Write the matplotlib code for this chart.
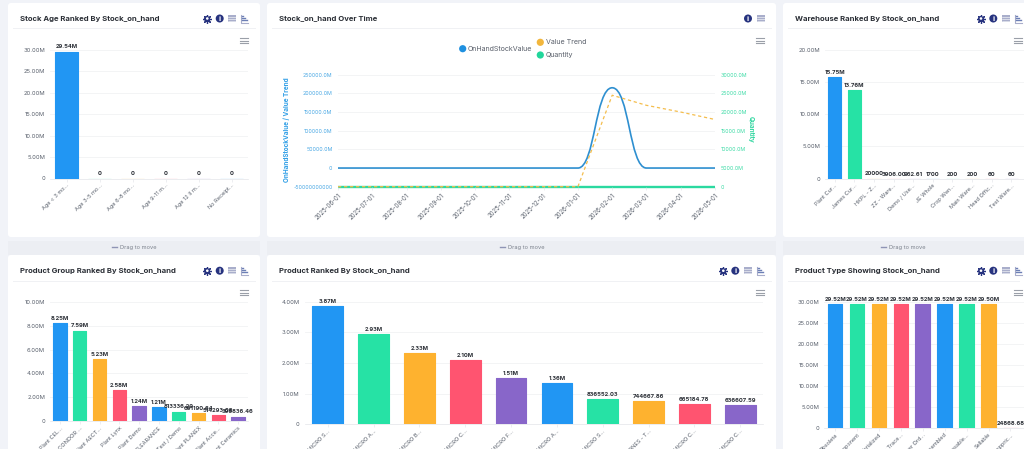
import matplotlib
matplotlib.use('Agg')
import matplotlib.pyplot as plt
from matplotlib.patches import FancyBboxPatch, Rectangle, Circle, PathPatch
from matplotlib.path import Path

plt.rcParams['font.family'] = ['Inter', 'DejaVu Sans']

# Stock age panel
age_names = ['Age < 3 mo...', 'Age 3-5 mo...', 'Age 6-8 mo...', 'Age 9-11 m...', 'Age 12 II m...', 'No Receipt...']
age_values = [29.54e6, 0, 0, 0, 0, 0]
age_labels = ['29.54M', '0', '0', '0', '0', '0']
age_ticks = ['0', '5.00M', '10.00M', '15.00M', '20.00M', '25.00M', '30.00M']

# Stock over time panel
months = ['2025-06-01', '2025-07-01', '2025-08-01', '2025-09-01', '2025-10-01', '2025-11-01',
          '2025-12-01', '2026-01-01', '2026-02-01', '2026-03-01', '2026-04-01', '2026-05-01']
stock_value = [0, 0, 0, 0, 0, 0, 0, 0, 215000, 0, 0, 0]
value_trend = [-50000, -50000, -50000, -50000, -50000, -50000, -50000, -50000, 195000, 168000, 150000, 130000]
quantity = [0, 0, 0, 0, 0, 0, 0, 0, 0, 0, 0, 0]
left_ticks = ['-50000000000', '0', '50000.0M', '100000.0M', '150000.0M', '200000.0M', '250000.0M']
right_ticks = ['0', '5000.0M', '10000.0M', '15000.0M', '20000.0M', '25000.0M', '30000.0M']

# Warehouse panel
warehouse_names = ['Plant Cur...', 'James Cur...', 'HKPL - Z...', 'ZZ - Ware...', 'Demo / Use...',
                   'JE Whole', 'Crop Wen...', 'Main Ware...', 'Head Offic...', 'Test Ware...']
warehouse_values = [15.75e6, 13.76e6, 20000, 3906.00, 962.61, 1700, 200, 200, 60, 60]
warehouse_labels = ['15.75M', '13.76M', '20000', '3906.00', '962.61', '1700', '200', '200', '60', '60']
warehouse_ticks = ['0', '5.00M', '10.00M', '15.00M', '20.00M']

# Product group panel
group_names = ['Plant CEL...', 'T CONDOR ...', 'Plant AECT...', 'Plant Lynx', 'Plant Demo',
               'CLEARANCE', 'Test / Demo', 'Plant PLANEX', 'Plant Acce...', 'Plant Ceramics']
group_values = [8.25e6, 7.59e6, 5.23e6, 2.58e6, 1.24e6, 1.21e6, 813336.29, 691190.64, 514293.08, 398836.46]
group_labels = ['8.25M', '7.59M', '5.23M', '2.58M', '1.24M', '1.21M', '813336.29', '691190.64', '514293.08', '398836.46']
group_ticks = ['0', '2.00M', '4.00M', '6.00M', '8.00M', '10.00M']

# Product panel
product_names = ['PT MICRO S...', 'PT MICRO A...', 'PT MICRO B...', 'PT MICRO C...', 'PT MICRO F...',
                 'PT MICRO A...', 'PT MICRO S...', 'REDNES - T...', 'PT MICRO C...', 'PT MICRO C...']
product_values = [3.87e6, 2.93e6, 2.33e6, 2.10e6, 1.51e6, 1.36e6, 836552.03, 744667.86, 665184.78, 636607.59]
product_labels = ['3.87M', '2.93M', '2.33M', '2.10M', '1.51M', '1.36M', '836552.03', '744667.86', '665184.78', '636607.59']
product_ticks = ['0', '1.00M', '2.00M', '3.00M', '4.00M']

# Product type panel
type_names = ['Obsolete', 'Component', 'Serialized', 'Finish Trace...', 'Never Ord...',
              'Assembled', 'Purchasable...', 'Sellable', 'Nonstoppric...']
type_values = [29.52e6, 29.52e6, 29.52e6, 29.52e6, 29.52e6, 29.52e6, 29.52e6, 29.50e6, 24868.68]
type_labels = ['29.52M', '29.52M', '29.52M', '29.52M', '29.52M', '29.52M', '29.52M', '29.50M', '24868.68']
type_ticks = ['0', '5.00M', '10.00M', '15.00M', '20.00M', '25.00M', '30.00M']

W, H = 1024, 449
COLORS = ['#2196f3', '#26e2a5', '#feb22f', '#ff5470', '#8866c9']
NAVY = '#27337f'
PALE = '#a9aecb'
GRID = '#f1f2f4'
TICK = '#59606c'
INK = '#2b2f36'

fig = plt.figure(figsize=(W / 100, H / 100), dpi=100, facecolor='#f1f3f8')

# full-figure axes in pixel units for cards, headers and icons
page = fig.add_axes([0, 0, 1, 1], zorder=0)
page.set_xlim(0, W)
page.set_ylim(H, 0)
page.axis('off')


def px_axes(left, right, top, bottom):
    ax = fig.add_axes([left / W, 1 - bottom / H, (right - left) / W, (bottom - top) / H], zorder=1)
    ax.patch.set_alpha(0)
    return ax


def card(x0, x1, y0, y1):
    page.add_patch(FancyBboxPatch((x0 + 3, y0 + 3), x1 - x0 - 6, y1 - y0 - 6,
                                  boxstyle='round,pad=3', fc='white', ec='none'))


def gear(x, y):
    page.plot([x], [y], marker='8', ms=5, color=NAVY, mew=0)
    page.plot([x], [y], marker=(8, 2, 0), ms=6.2, color=NAVY, mew=0.9)
    page.add_patch(Circle((x, y), 1.3, fc='white', ec='none', zorder=5))


def info(x, y):
    page.add_patch(Circle((x, y), 4, fc=NAVY, ec='none'))
    page.text(x, y + 0.1, 'i', color='white', fontsize=5.5, fontweight='bold', ha='center', va='center')


def table_icon(x, y):
    page.add_patch(Rectangle((x - 4, y - 3.5), 8, 7, fc=PALE, ec='none'))
    for dy in (-1.5, 0.5, 2.5):
        page.plot([x - 4, x + 4], [y + dy, y + dy], color='white', lw=0.4)


def sort_icon(x, y):
    page.plot([x - 3.5, x - 3.5, x + 4], [y - 4, y + 4, y + 4], color=PALE, lw=0.8)
    for i, n in enumerate((1, 3, 5)):
        page.plot([x - 2, x - 2 + n], [y - 2.5 + i * 2, y - 2.5 + i * 2], color='#6c7fb5', lw=1)


def menu(x, y):
    for dy in (-2.5, 0, 2.5):
        page.plot([x - 4, x + 4], [y + dy, y + dy], color='#9a9fa8', lw=0.8)


def header(x0, x1, y, title, icons, line_y):
    page.text(x0 + 12, y, title, fontsize=5.55, fontweight='bold', color=INK, va='center')
    page.plot([x0 + 5, x1 - 5], [line_y, line_y], color='#f0f1f4', lw=0.7)
    for draw, ix in icons:
        draw(ix, y)


def bars(rect, names, values, labels, ticks, tick_step, colors, label_size=4.15):
    left, right, top, bottom, n_slots = rect
    ax = px_axes(left, right, top, bottom)
    x = list(range(len(values)))
    ax.bar(x, values, width=0.67, color=[colors[i % len(colors)] for i in x],
           edgecolor=[colors[i % len(colors)] for i in x], linewidth=0.8, joinstyle='round', zorder=2)
    ax.set_xlim(-0.5, n_slots - 0.5)
    ax.set_ylim(0, tick_step * (len(ticks) - 1))
    ax.set_yticks([tick_step * i for i in range(len(ticks))], ticks)
    ax.set_xticks(x, names, rotation=45, ha='right', rotation_mode='anchor')
    ax.tick_params(axis='y', length=0, labelsize=4.2, labelcolor=TICK, pad=3.6)
    ax.tick_params(axis='x', length=2, width=0.4, color='#dfe2e6', labelsize=4.0, labelcolor=TICK, pad=1.2)
    ax.grid(axis='y', color=GRID, lw=0.6, zorder=0)
    for s in ('top', 'left', 'right'):
        ax.spines[s].set_visible(False)
    ax.spines['bottom'].set_color('#e3e5e9')
    ax.spines['bottom'].set_linewidth(0.5)
    for i, (v, lab) in enumerate(zip(values, labels)):
        ax.annotate(lab, (i, v), xytext=(0, 1.5), textcoords='offset points', ha='center', va='bottom',
                    fontsize=label_size, fontweight='bold', color=INK, zorder=4, annotation_clip=False)
    return ax


# cards and drag strips
for x0, x1 in ((8, 260), (267, 776), (783, 1030)):
    card(x0, x1, 3, 237)
    card(x0, x1, 255, 470)
    page.add_patch(Rectangle((x0, 241), x1 - x0, 14, fc='#eceef3', ec='none'))
    cx = (x0 + x1) / 2 if x0 < 783 else 903
    page.text(cx + 4.5, 247.6, 'Drag to move', fontsize=4.1, color='#7c828d', ha='center', va='center')
    page.plot([cx - 22, cx - 17], [247, 247], color='#8f94b5', lw=1)

full = lambda a, b, c, d: [(gear, a), (info, b), (table_icon, c), (sort_icon, d)]
header(8, 260, 18.5, 'Stock Age Ranked By Stock_on_hand', full(207.3, 219.7, 232.3, 244.3), 27.5)
header(267, 776, 18.5, 'Stock_on_hand Over Time', [(info, 748), (table_icon, 760.7)], 27.5)
header(783, 1024, 18.5, 'Warehouse Ranked By Stock_on_hand', full(981, 993.3, 1006.3, 1018), 27.5)
header(8, 260, 270.7, 'Product Group Ranked By Stock_on_hand', full(207.3, 219.7, 232.3, 244.3), 280.7)
header(267, 776, 270.7, 'Product Ranked By Stock_on_hand', full(723.3, 735.3, 748, 760), 280.7)
header(783, 1024, 270.7, 'Product Type Showing Stock_on_hand', full(981, 993.3, 1006.3, 1018), 280.7)

for mx, my in ((244, 40.5), (760, 40.5), (1018, 40.5), (244, 292.5), (760, 292.5), (1018, 292.5)):
    menu(mx, my)

bars((50, 248, 49.6, 178.5, 6), age_names, age_values, age_labels, age_ticks, 5e6, COLORS)
bars((825, 1024, 49.7, 178.7, 10.15), warehouse_names, warehouse_values, warehouse_labels, warehouse_ticks, 5e6, COLORS)
bars((50, 248, 301.7, 421.3, 10), group_names, group_values, group_labels, group_ticks, 2e6, COLORS)
bars((304.8, 763.1, 301.7, 424.3, 10), product_names, product_values, product_labels, product_ticks, 1e6, COLORS)
bars((824.2, 1024, 301.7, 427.7, 9.12), type_names, type_values, type_labels, type_ticks, 5e6, COLORS)

# time series with two value axes
ax = px_axes(338, 715, 74.7, 186.7)
x = list(range(len(months)))
ax.set_xlim(0, len(months) - 1)
ax.set_ylim(-50000, 250000)
ax.set_yticks([-50000 + 50000 * i for i in range(len(left_ticks))], left_ticks)
ax.set_xticks(x, months, rotation=45, ha='right', rotation_mode='anchor')
ax.tick_params(axis='y', length=0, labelsize=3.8, labelcolor='#4aa8e4', pad=4)
ax.tick_params(axis='x', length=2, width=0.4, color='#dfe2e6', labelsize=4.4, labelcolor=TICK, pad=2)
ax.grid(axis='y', color=GRID, lw=0.6, zorder=0)
for s in ax.spines.values():
    s.set_visible(False)
ax.set_ylabel('OnHandStockValue / Value Trend', fontsize=4.6, fontweight='bold', color='#2f9ee6', labelpad=0)
ax.yaxis.set_label_coords((290 - 338) / 377, 0.51)

right = ax.twinx()
right.set_zorder(ax.get_zorder() - 1)
right.set_ylim(0, 30000)
right.set_yticks([5000 * i for i in range(len(right_ticks))], right_ticks)
right.tick_params(axis='y', length=0, labelsize=3.8, labelcolor='#3ddba6', pad=4.3)
for s in right.spines.values():
    s.set_visible(False)
right.set_ylabel('Quantity', fontsize=4.6, fontweight='bold', color='#2fd69f', rotation=270, labelpad=0)
right.yaxis.set_label_coords(1 + (754 - 715) / 377, 0.51)
right.plot(x, quantity, color='#2bd9a0', lw=1.7, clip_on=False, solid_capstyle='butt')

# spline between monthly points, flat at every point
verts = [(x[0], stock_value[0])]
codes = [Path.MOVETO]
for i in x[1:]:
    verts += [(i - 0.5, stock_value[i - 1]), (i - 0.5, stock_value[i]), (i, stock_value[i])]
    codes += [Path.CURVE4] * 3
ax.add_patch(PathPatch(Path(verts, codes), fc='none', ec='#2e8fd0', lw=1.2, zorder=3))
ax.plot(x, value_trend, color='#f4bd4c', lw=0.9, ls=(0, (2.6, 2.2)), zorder=4, clip_on=False)

# legend
for name, color, lx, ly in (('OnHandStockValue', '#1e90e0', 462.7, 48.7),
                            ('Value Trend', '#f2b63c', 540.3, 42.3),
                            ('Quantity', '#22d69b', 540.3, 55)):
    page.add_patch(Circle((lx, ly), 3.6, fc=color, ec='none'))
    page.text(lx + 5.3, ly + 0.1, name, fontsize=5.1, color='#5a606b', va='center')

fig.savefig('out.png', dpi=100, facecolor=fig.get_facecolor())
